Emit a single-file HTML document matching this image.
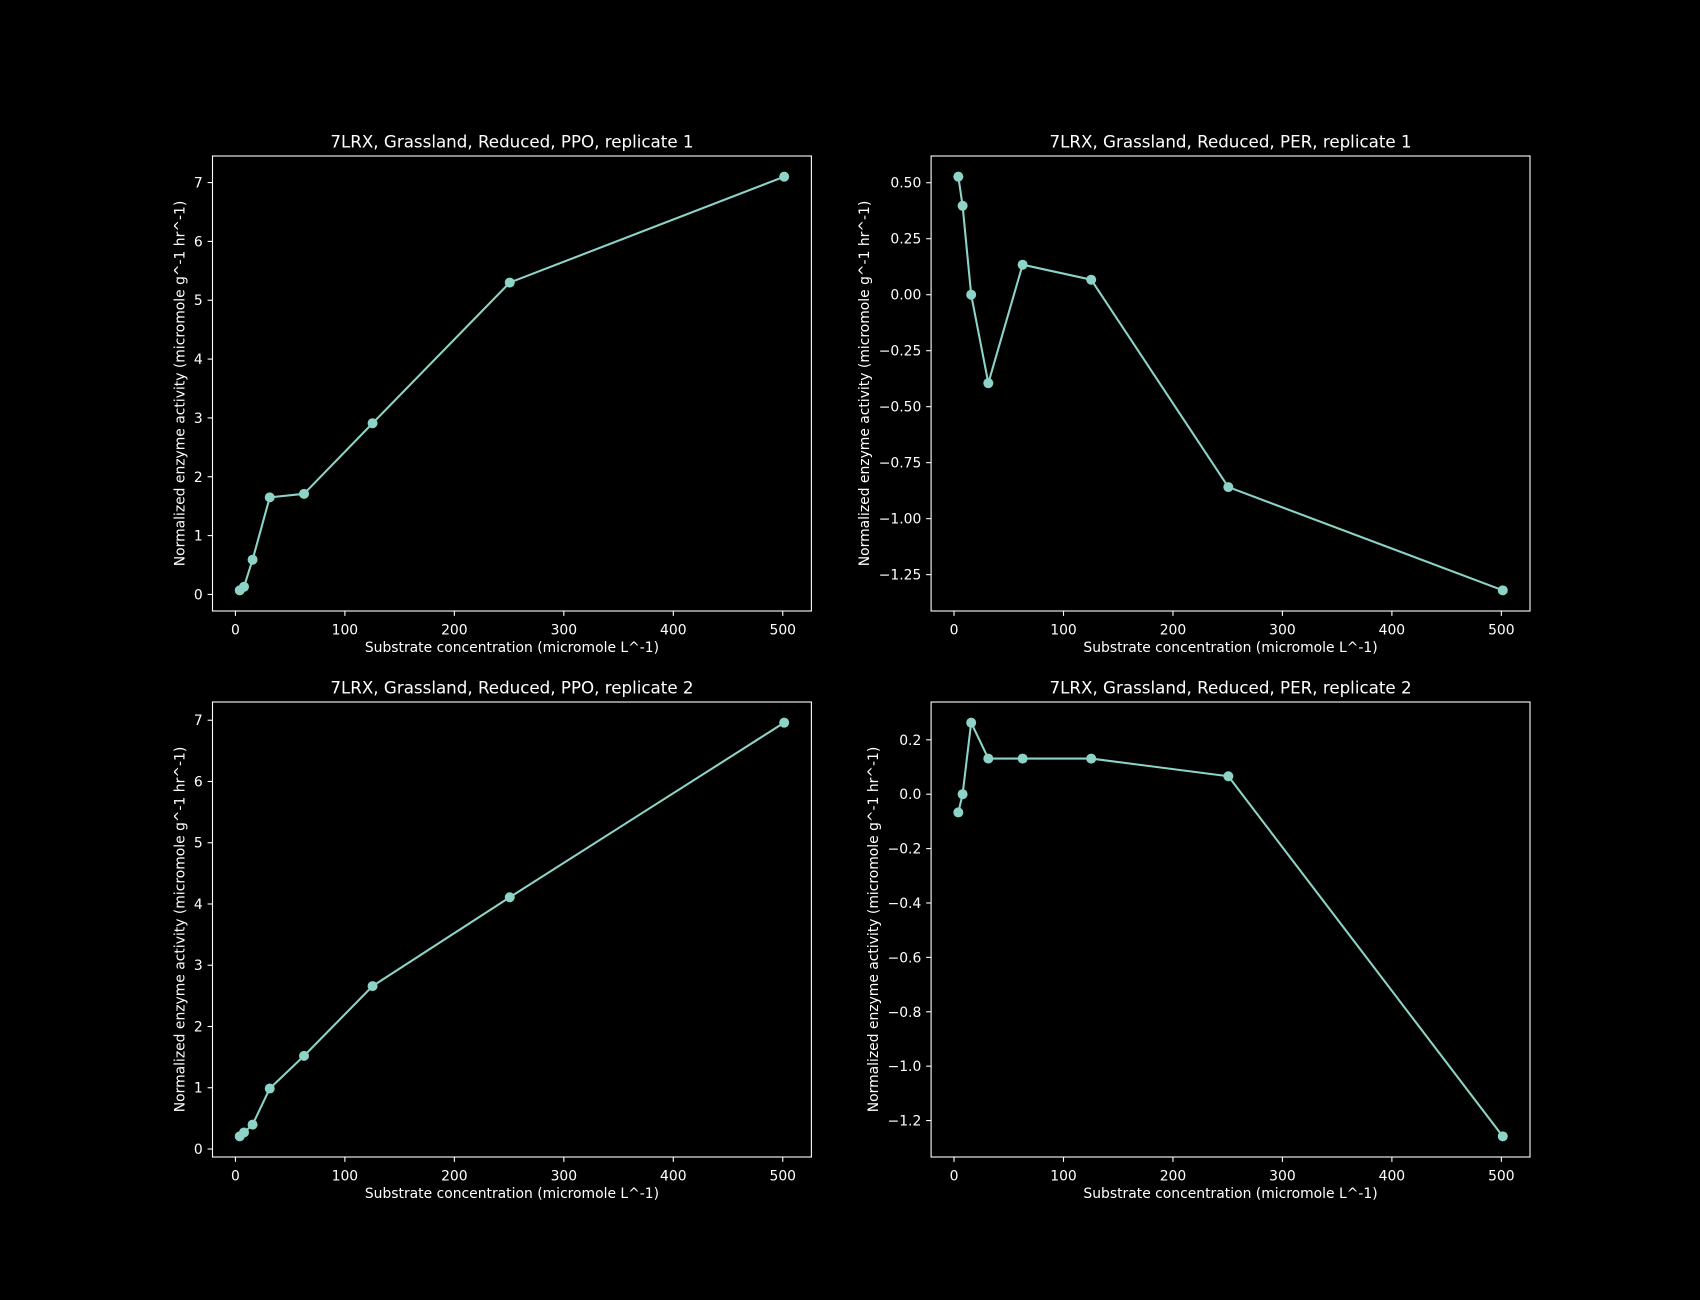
<!DOCTYPE html>
<html><head><meta charset="utf-8"><style>
html,body{margin:0;padding:0;background:#000;}
svg{display:block;}
text{font-family:"DejaVu Sans","Liberation Sans",sans-serif;fill:#fff;}
</style></head><body>
<svg id="fig" width="1700" height="1300" viewBox="0 0 1700 1300" xmlns="http://www.w3.org/2000/svg">
<rect width="1700" height="1300" fill="#000"/>
</svg>
<script>
const xConc = [3.92, 7.83, 15.66, 31.33, 62.66, 125.3, 250.6, 501.3];
const ppoRep1 = [0.07, 0.13, 0.59, 1.65, 1.71, 2.91, 5.30, 7.10];
const perRep1 = [0.527, 0.397, 0.0, -0.395, 0.134, 0.067, -0.859, -1.32];
const ppoRep2 = [0.207, 0.27, 0.398, 0.987, 1.52, 2.66, 4.11, 6.96];
const perRep2 = [-0.067, 0.0, 0.263, 0.131, 0.131, 0.131, 0.066, -1.258];
const xTicks = [0, 100, 200, 300, 400, 500];
const ppoTicks = [0, 1, 2, 3, 4, 5, 6, 7];
const perTicks1 = [-1.25, -1.0, -0.75, -0.5, -0.25, 0.0, 0.25, 0.5];
const perTicks2 = [-1.2, -1.0, -0.8, -0.6, -0.4, -0.2, 0.0, 0.2];
const titles = ["7LRX, Grassland, Reduced, PPO, replicate 1","7LRX, Grassland, Reduced, PER, replicate 1","7LRX, Grassland, Reduced, PPO, replicate 2","7LRX, Grassland, Reduced, PER, replicate 2"];

const NS="http://www.w3.org/2000/svg";
const svg=document.getElementById('fig');
const ctx=document.createElement('canvas').getContext('2d');
ctx.font='13.9px "DejaVu Sans"';
function mk(tag,attrs,parent){const e=document.createElementNS(NS,tag);for(const k in attrs)e.setAttribute(k,attrs[k]);(parent||svg).appendChild(e);return e;}
function fmt(v,d){const s=Math.abs(v).toFixed(d);return (v<0?'\u2212':'')+s;}

const panels=[
 {x0:212.5,x1:811.4,y0:156,y1:611,ys:ppoRep1,ticks:ppoTicks,dec:0,name:'ppo-rep1'},
 {x0:931.1,x1:1530,y0:156,y1:611,ys:perRep1,ticks:perTicks1,dec:2,name:'per-rep1'},
 {x0:212.5,x1:811.4,y0:702,y1:1157,ys:ppoRep2,ticks:ppoTicks,dec:0,name:'ppo-rep2'},
 {x0:931.1,x1:1530,y0:702,y1:1157,ys:perRep2,ticks:perTicks2,dec:1,name:'per-rep2'}
];
panels.forEach((p,i)=>{
  const g=mk('g',{});
  
  
  const xmin=Math.min(...xConc),xmax=Math.max(...xConc);
  const ymin=Math.min(...p.ys),ymax=Math.max(...p.ys);
  const xl=xmin-0.05*(xmax-xmin),xh=xmax+0.05*(xmax-xmin);
  const yl=ymin-0.05*(ymax-ymin),yh=ymax+0.05*(ymax-ymin);
  const sx=v=>p.x0+(v-xl)/(xh-xl)*(p.x1-p.x0);
  const sy=v=>p.y1-(v-yl)/(yh-yl)*(p.y1-p.y0);
  xTicks.forEach(t=>{
    const X=sx(t);
    const tk=mk('line',{x1:X,x2:X,y1:p.y1,y2:p.y1+4.9,stroke:'#fff','stroke-width':1.1},g);
    
    
    const tl=mk('text',{x:X,y:p.y1+23.5,'font-size':13.9,'text-anchor':'middle'},g);
    tl.textContent=String(t);
    
    
  });
  let maxw=0;
  p.ticks.forEach(t=>{
    const Y=sy(t);
    const tk=mk('line',{x1:p.x0-4.9,x2:p.x0,y1:Y,y2:Y,stroke:'#fff','stroke-width':1.1},g);
    
    
    const s=fmt(t,p.dec);
    maxw=Math.max(maxw,ctx.measureText(s).width);
    const tl=mk('text',{x:p.x0-9.8,y:Y+5,'font-size':13.9,'text-anchor':'end'},g);
    tl.textContent=s;
    
    
  });
  const fr=mk('rect',{x:p.x0,y:p.y0,width:p.x1-p.x0,height:p.y1-p.y0,fill:'none',stroke:'#fff','stroke-width':1.1},g);
  
  
  const pts=xConc.map((x,k)=>sx(x).toFixed(2)+','+sy(p.ys[k]).toFixed(2)).join(' ');
  const pl=mk('polyline',{points:pts,fill:'none',stroke:'#8dd3c7','stroke-width':2.08,'stroke-linejoin':'round'},g);
  
  
  xConc.forEach((x,k)=>{
    const c=mk('circle',{cx:sx(x),cy:sy(p.ys[k]),r:5,fill:'#8dd3c7'},g);
    
    
  });
  const cx=(p.x0+p.x1)/2;
  const tt=mk('text',{x:cx,y:p.y0-8.5,'font-size':16.7,'text-anchor':'middle'},g);
  tt.textContent=titles[i];
  
  
  const xt=mk('text',{x:cx,y:p.y1+41,'font-size':13.9,'text-anchor':'middle'},g);
  xt.textContent='Substrate concentration (micromole L^-1)';
  
  
  const lx=p.x0-9.8-maxw-9.5;
  const ly=(p.y0+p.y1)/2;
  const yt=mk('text',{x:lx,y:ly,'font-size':13.9,'text-anchor':'middle',transform:'rotate(-90 '+lx+' '+ly+')'},g);
  yt.textContent='Normalized enzyme activity (micromole g^-1 hr^-1)';
  
  
});
</script>
</body></html>
